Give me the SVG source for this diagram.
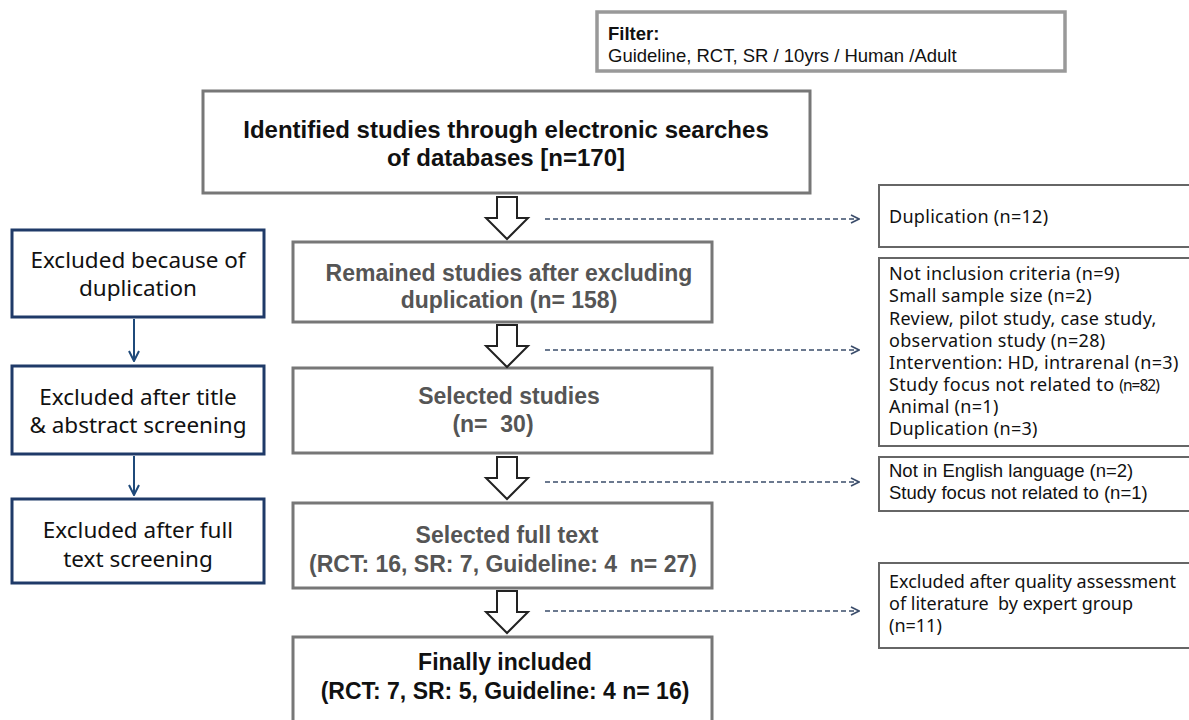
<svg xmlns="http://www.w3.org/2000/svg" width="1189" height="720" viewBox="0 0 1189 720">
<defs>
<style>
.bg{fill:#fff}
.gbox{fill:#fff;stroke:#777;stroke-width:3}
.fbox{fill:#fff;stroke:#999;stroke-width:3.5}
.rbox{fill:#fff;stroke:#666;stroke-width:2}
.lbox{fill:#fff;stroke:#1f3a68;stroke-width:3}
.harrow{fill:#fff;stroke:#222;stroke-width:2;stroke-linejoin:miter}
.dash{fill:none;stroke:#3b4d6b;stroke-width:1.6;stroke-dasharray:5 3}
.solid{fill:none;stroke:#1f4a7a;stroke-width:2}
.ctitle{font-family:"Liberation Sans",Arial,sans-serif;font-weight:bold;font-size:23px;text-anchor:middle}
.big{font-size:24px}
.gray{fill:#555}
.black{fill:#111}
.ltext{font-family:"Noto Sans","Open Sans",sans-serif;font-size:22.5px;fill:#111;text-anchor:middle}
.rtext{font-family:"Noto Sans","Open Sans",sans-serif;font-size:18px;letter-spacing:0.3px;fill:#111}
.tight{letter-spacing:0}
.atext{font-family:"Liberation Sans",Arial,sans-serif;font-size:18.5px;fill:#111}
</style>
<marker id="chev" viewBox="0 0 10 10" refX="9" refY="5" markerWidth="10" markerHeight="10" markerUnits="userSpaceOnUse" orient="auto">
<path d="M1,1 L9,5 L1,9" fill="none" stroke="#3b4d6b" stroke-width="1.6"/>
</marker>
<marker id="vhead" viewBox="0 0 12 12" refX="11" refY="6" markerWidth="12" markerHeight="12" markerUnits="userSpaceOnUse" orient="auto">
<path d="M1,1 L11,6 L1,11" fill="none" stroke="#1f4a7a" stroke-width="2"/>
</marker>
</defs>
<rect class="bg" x="0" y="0" width="1189" height="720"/>

<g id="filter">
<rect class="fbox" x="597" y="12" width="468" height="59"/>
<text x="608" y="40" font-family="Liberation Sans, Arial, sans-serif" font-weight="bold" font-size="18.5" fill="#111">Filter:</text>
<text x="608" y="62" font-family="Liberation Sans, Arial, sans-serif" font-size="18.5" fill="#111">Guideline, RCT, SR / 10yrs / Human /Adult</text>
</g>

<g id="identified">
<rect class="gbox" x="203" y="91" width="607" height="102"/>
<text class="ctitle big black" x="506" y="138">Identified studies through electronic searches</text>
<text class="ctitle big black" x="506" y="166">of databases [n=170]</text>
</g>

<g id="remained">
<rect class="gbox" x="293" y="242" width="419" height="80"/>
<text class="ctitle gray" x="509" y="281">Remained studies after excluding</text>
<text class="ctitle gray" x="509" y="308">duplication (n= 158)</text>
</g>

<g id="selected">
<rect class="gbox" x="293" y="368" width="419" height="85"/>
<text class="ctitle gray" x="509" y="404">Selected studies</text>
<text class="ctitle gray" x="493" y="432" xml:space="preserve">(n=  30)</text>
</g>

<g id="fulltext">
<rect class="gbox" x="293" y="503" width="419" height="85"/>
<text class="ctitle gray" x="507" y="543">Selected full text</text>
<text class="ctitle gray" x="503" y="572" xml:space="preserve">(RCT: 16, SR: 7, Guideline: 4  n= 27)</text>
</g>

<g id="final">
<rect class="gbox" x="293" y="637" width="419" height="90"/>
<text class="ctitle black" x="505" y="670">Finally included</text>
<text class="ctitle black" x="505" y="699">(RCT: 7, SR: 5, Guideline: 4 n= 16)</text>
</g>

<g id="ex-dup">
<rect class="lbox" x="12" y="230" width="252" height="87"/>
<text class="ltext" x="138" y="268">Excluded because of</text>
<text class="ltext" x="138" y="296">duplication</text>
</g>

<g id="ex-title">
<rect class="lbox" x="12" y="366" width="252" height="88"/>
<text class="ltext" x="138" y="405">Excluded after title</text>
<text class="ltext" x="138" y="433">&amp; abstract screening</text>
</g>

<g id="ex-full">
<rect class="lbox" x="12" y="499" width="252" height="84"/>
<text class="ltext" x="138" y="538">Excluded after full</text>
<text class="ltext" x="138" y="567">text screening</text>
</g>

<g id="r-dup">
<rect class="rbox" x="879" y="185" width="320" height="62"/>
<text class="rtext" x="889" y="223">Duplication (n=12)</text>
</g>

<g id="r-screen">
<rect class="rbox" x="879" y="258" width="320" height="188"/>
<text class="rtext" x="889" y="280">Not inclusion criteria (n=9)</text>
<text class="rtext" x="889" y="302">Small sample size (n=2)</text>
<text class="rtext" x="889" y="325">Review, pilot study, case study,</text>
<text class="rtext" x="889" y="347">observation study (n=28)</text>
<text class="rtext" x="889" y="369">Intervention: HD, intrarenal (n=3)</text>
<text class="rtext" x="889" y="391">Study focus not related to <tspan style="font-size:15.5px;letter-spacing:-1px">(n=82)</tspan></text>
<text class="rtext" x="889" y="413">Animal (n=1)</text>
<text class="rtext" x="889" y="435">Duplication (n=3)</text>
</g>

<g id="r-full">
<rect class="rbox" x="879" y="457" width="320" height="54"/>
<text class="atext" x="889" y="477">Not in English language (n=2)</text>
<text class="atext" x="889" y="499">Study focus not related to (n=1)</text>
</g>

<g id="r-quality">
<rect class="rbox" x="879" y="563" width="320" height="85"/>
<text class="rtext tight" x="889" y="588">Excluded after quality assessment</text>
<text class="rtext tight" x="889" y="610" xml:space="preserve">of literature  by expert group</text>
<text class="rtext tight" x="889" y="632">(n=11)</text>
</g>

<g id="connectors">
<polygon class="harrow" points="497,197 517,197 517,218 528,218 507,239 486,218 497,218"/>
<polygon class="harrow" points="497,325 517,325 517,346 528,346 507,367 486,346 497,346"/>
<polygon class="harrow" points="497,457 517,457 517,478 528,478 507,499 486,478 497,478"/>
<polygon class="harrow" points="497,591 517,591 517,612 528,612 507,633 486,612 497,612"/>
<line class="dash" x1="545" y1="219" x2="859" y2="219" marker-end="url(#chev)"/>
<line class="dash" x1="545" y1="350" x2="859" y2="350" marker-end="url(#chev)"/>
<line class="dash" x1="545" y1="482" x2="859" y2="482" marker-end="url(#chev)"/>
<line class="dash" x1="545" y1="611" x2="859" y2="611" marker-end="url(#chev)"/>
<line class="solid" x1="134" y1="319" x2="134" y2="361" marker-end="url(#vhead)"/>
<line class="solid" x1="134" y1="456" x2="134" y2="495" marker-end="url(#vhead)"/>
</g>
</svg>
